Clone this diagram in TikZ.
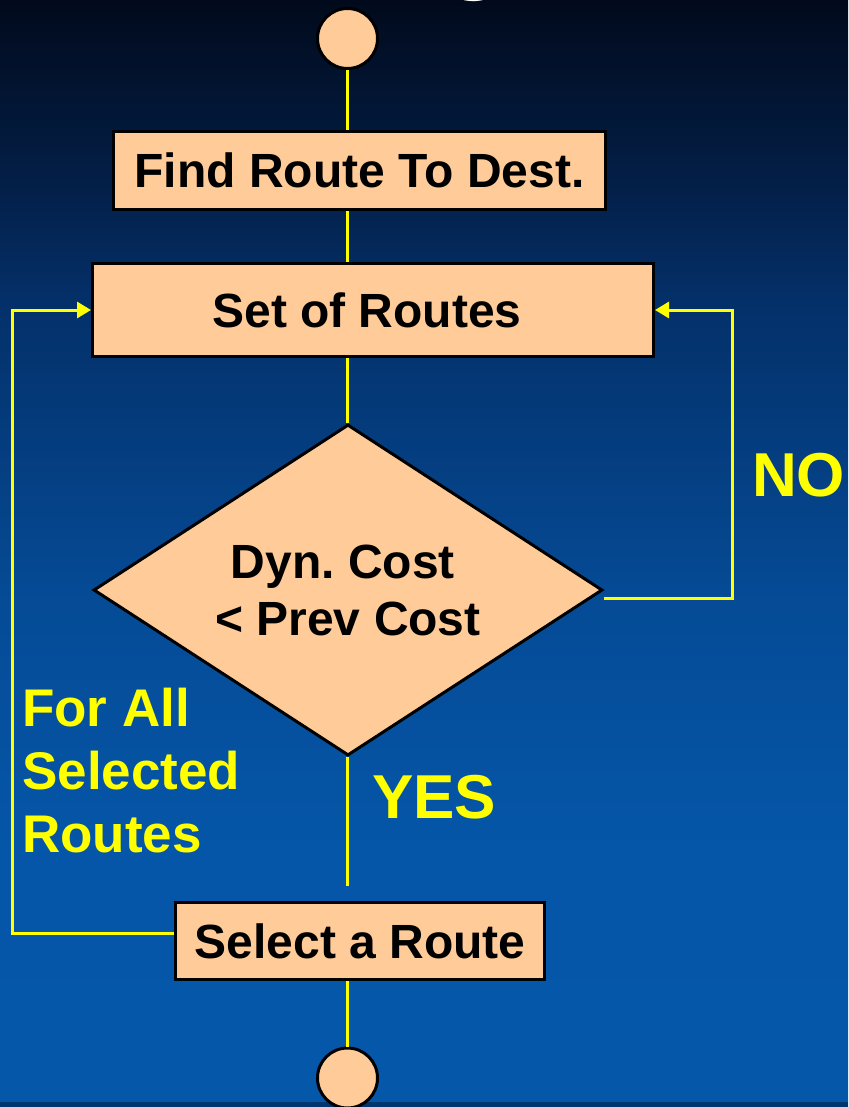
\documentclass[tikz,border=0pt]{standalone}
\usepackage{fontspec}
\setmainfont{Liberation Sans}
\usetikzlibrary{shapes.geometric,arrows.meta}

\definecolor{peach}{RGB}{255,204,153}
\definecolor{flowyellow}{RGB}{255,255,0}
\definecolor{bgtop}{RGB}{1,10,28}
\definecolor{bgA}{RGB}{3,30,70}
\definecolor{bgB}{RGB}{4,48,105}
\definecolor{bgC}{RGB}{5,75,150}
\definecolor{bgD}{RGB}{5,86,168}
\definecolor{bgbot}{RGB}{5,87,170}
\definecolor{bgstrip}{RGB}{0,53,110}

% slide background: dark navy at the top fading into blue
\pgfdeclareverticalshading{slidebg}{100bp}{%
  color(0bp)=(bgbot); color(25bp)=(bgbot); color(36.6bp)=(bgD);
  color(47.9bp)=(bgC); color(61.4bp)=(bgB); color(67bp)=(bgA);
  color(75bp)=(bgtop); color(100bp)=(bgtop)}

\frenchspacing
\tikzset{
  boxtext/.style={font=\fontsize{48}{57}\selectfont\bfseries},
  stepbox/.style={draw=black, line width=3pt, fill=peach, boxtext, inner sep=0pt},
  term/.style={circle, draw=black, line width=3pt, fill=peach, minimum size=60pt, inner sep=0pt},
  decision/.style={diamond, shape aspect=1.53, draw=black, line width=3pt, fill=peach, boxtext, align=center, inner sep=0pt},
  link/.style={draw=flowyellow, line width=2.7pt},
  loop/.style={draw=flowyellow, line width=3pt, -{Triangle[length=14pt,width=16pt]}},
  lbl/.style={text=flowyellow, font=\fontsize{62}{62}\selectfont\bfseries, inner sep=0pt},
}

\begin{document}
\begin{tikzpicture}[x=1pt, y=-1pt]
  \useasboundingbox (0,0) rectangle (848,1107);
  \clip (0,0) rectangle (848,1107);
  \shade[shading=slidebg] (0,0) rectangle (848,1107);
  \fill[bgstrip] (0,1102) rectangle (848,1107);

  % tail of the slide title above the frame
  \node[text=white, font=\fontsize{100}{100}\selectfont\bfseries, anchor=base, inner sep=0pt] (titleg) at (475,-19) {g};

  % flowchart nodes
  \node[term] (start) at (347.5,38.5) {};
  \node[stepbox, minimum width=492pt, minimum height=78pt] (find) at (359.5,170.5) {Find Route To Dest.};
  \node[stepbox, minimum width=561pt, minimum height=93pt] (set) at (373,310) {Set of Routes\hspace*{12pt}};
  \node[decision, minimum width=509pt, minimum height=331pt] (dec) at (348,590) {Dyn. Cost\hspace*{10pt}\\[0pt]{<} Prev Cost};
  \node[stepbox, minimum width=369pt, minimum height=77pt] (select) at (360,941) {Select a Route};
  \node[term] (stop) at (347.5,1078) {};

  \coordinate (lx) at (12,0);
  \coordinate (rx) at (732,0);

  % main flow
  \draw[link] (start) -- (start |- find.north);
  \draw[link] (find.south -| start) -- (start |- set.north);
  \draw[link] (set.south -| start) -- (start |- dec.north);
  \draw[link, shorten >=15pt] (dec.south -| start) -- (start |- select.north);
  \draw[link] (select.south -| start) -- (stop);

  % loops back to the set of routes
  \draw[loop] ([yshift=8pt]select.west) -- ([yshift=8pt]select.west -| lx) |- (set.west);
  \draw[loop] ([yshift=-8pt]dec.east) -- ([yshift=-8pt]dec.east -| rx) |- (set.east);

  % labels
  \node[lbl, anchor=base west] (no) at (752,496) {NO};
  \node[lbl, anchor=base west] (yes) at (372,818) {YES};
  \node[lbl, font=\fontsize{53}{63}\selectfont\bfseries, align=left, anchor=base west] (forall) at (22,852) {For All\\Selected\\Routes};
\end{tikzpicture}
\end{document}
